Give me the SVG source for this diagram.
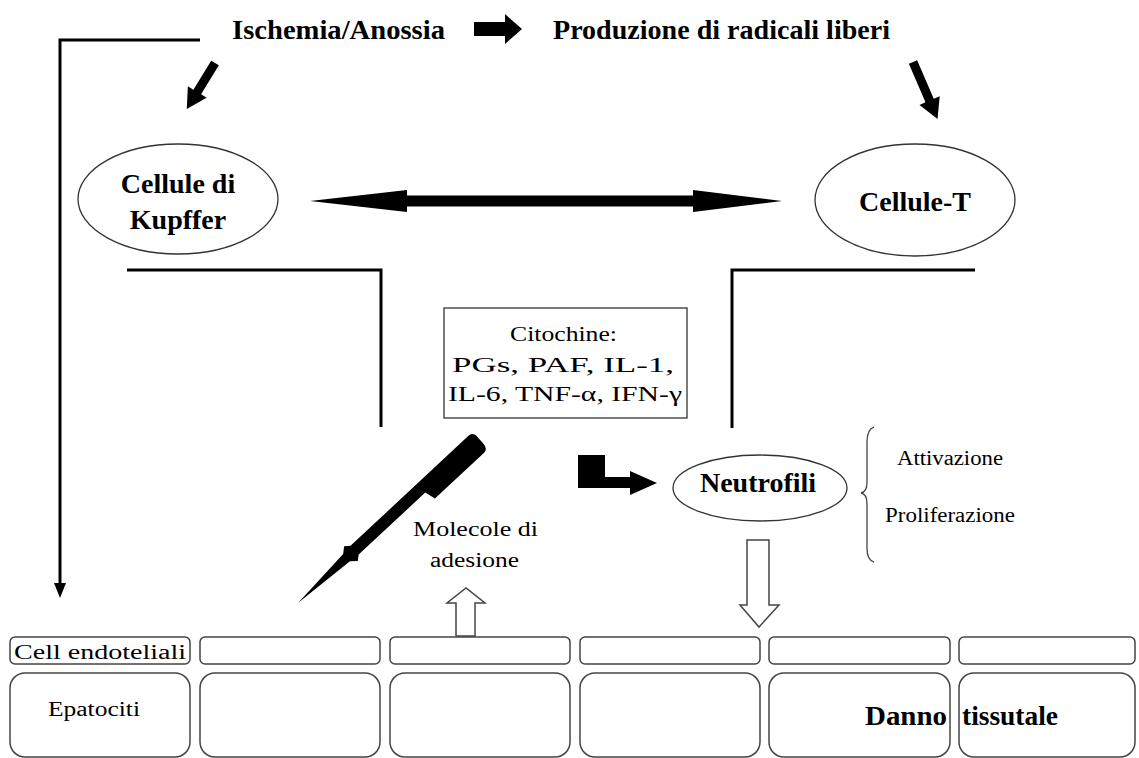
<svg xmlns="http://www.w3.org/2000/svg" width="1139" height="758" viewBox="0 0 1139 758">
<style>
.t{font-family:"Liberation Serif","Times New Roman",serif;fill:#000}
.b{font-weight:bold;font-size:28px}
.r{font-size:20px}
.ln{fill:none;stroke:#000;stroke-width:3}
.el{fill:#fff;stroke:#333;stroke-width:1.3}
.cell{fill:#fff;stroke:#444;stroke-width:1.5}
.solid{fill:#000;stroke:none}
.hollow{fill:#fff;stroke:#444;stroke-width:1.5}
</style>
<rect width="1139" height="758" fill="#fff"/>
<g id="connectors">
  <polyline class="ln" points="200,40 60,40 60,585"/>
  <polygon class="solid" points="54,583 66,583 60,598"/>
  <polygon class="solid" points="474,22 505,22 505,14 522,29 505,44 505,36 474,36"/>
  <g transform="translate(215,63) rotate(121.5)"><polygon class="solid" points="0,-4.5 34,-4.5 34,-11 54,0 34,11 34,4.5 0,4.5"/></g>
  <g transform="translate(913,62) rotate(66.7)"><polygon class="solid" points="0,-4.5 42,-4.5 42,-11 62,0 42,11 42,4.5 0,4.5"/></g>
  <polygon class="solid" points="310,201 407,190 407,195.5 693,195.5 693,190 782,201 693,212 693,206.5 407,206.5 407,212"/>
  <polyline class="ln" points="127,270 381,270 381,427"/>
  <polyline class="ln" points="975,270 732,270 732,428"/>
  <g transform="translate(476,437) rotate(137)"><path class="solid" d="M4,6 L166,6 L171,10 L177,5 L243,0 L177,-5 L171,-10 L166,-6 L75,-6 L72,-17 L4,-17 Q-1,-16 -1,-9 L-1,1 Q-1,5 4,6 Z"/></g>
  <polygon class="solid" points="578,455 605,455 605,477 630,477 630,471 657,483 630,495 630,488 578,488"/>
  <polygon class="hollow" points="456,636 456,603 447,603 466,588 485,603 475,603 475,636"/>
  <polygon class="hollow" points="747,540 769,540 769,605 779,605 759,627 740,605 747,605"/>
  <path d="M874,427 Q867,429 867,442 L867,482 Q867,492 861,493 Q867,494 867,504 L867,548 Q867,560 874,562" fill="none" stroke="#444" stroke-width="1.3"/>
</g>
<g id="ischemia"><text class="t b" x="232" y="39" textLength="213" lengthAdjust="spacingAndGlyphs">Ischemia/Anossia</text></g>
<g id="radicali"><text class="t b" x="553" y="39" textLength="337" lengthAdjust="spacingAndGlyphs">Produzione di radicali liberi</text></g>
<g id="kupffer">
  <ellipse class="el" cx="178" cy="199" rx="100" ry="55"/>
  <text class="t b" x="178" y="193" text-anchor="middle">Cellule di</text>
  <text class="t b" x="178" y="229" text-anchor="middle">Kupffer</text>
</g>
<g id="cellule-t">
  <ellipse class="el" cx="915" cy="200" rx="100" ry="56"/>
  <text class="t b" x="915" y="211" text-anchor="middle">Cellule-T</text>
</g>
<g id="citochine">
  <rect x="444" y="308" width="243" height="110" fill="#fff" stroke="#333" stroke-width="1.3"/>
  <text class="t r" x="510" y="341" textLength="107" lengthAdjust="spacingAndGlyphs">Citochine:</text>
  <text class="t r" x="452" y="372" textLength="222" lengthAdjust="spacingAndGlyphs">PGs, PAF, IL-1,</text>
  <text class="t r" x="448" y="401" textLength="234" lengthAdjust="spacingAndGlyphs">IL-6, TNF-α, IFN-γ</text>
</g>
<g id="neutrofili">
  <ellipse class="el" cx="760" cy="488" rx="87" ry="33"/>
  <text class="t b" x="758" y="492" text-anchor="middle">Neutrofili</text>
</g>
<g id="effetti">
  <text class="t r" x="897" y="465" textLength="106" lengthAdjust="spacingAndGlyphs">Attivazione</text>
  <text class="t r" x="885" y="522" textLength="130" lengthAdjust="spacingAndGlyphs">Proliferazione</text>
</g>
<g id="molecole">
  <text class="t r" x="413" y="536" textLength="125" lengthAdjust="spacingAndGlyphs">Molecole di</text>
  <text class="t r" x="430" y="567" textLength="89" lengthAdjust="spacingAndGlyphs">adesione</text>
</g>
<g id="endotelio">
  <rect class="cell" x="10" y="637" width="180" height="27" rx="5"/>
  <rect class="cell" x="200" y="637" width="180" height="27" rx="5"/>
  <rect class="cell" x="390" y="637" width="180" height="27" rx="5"/>
  <rect class="cell" x="580" y="637" width="180" height="27" rx="5"/>
  <rect class="cell" x="769" y="637" width="181" height="27" rx="5"/>
  <rect class="cell" x="959" y="637" width="176" height="27" rx="5"/>
  <text class="t r" x="14" y="659" textLength="172" lengthAdjust="spacingAndGlyphs">Cell endoteliali</text>
</g>
<g id="epatociti">
  <rect class="cell" x="10" y="673" width="180" height="84" rx="15"/>
  <rect class="cell" x="200" y="673" width="180" height="84" rx="15"/>
  <rect class="cell" x="390" y="673" width="180" height="84" rx="15"/>
  <rect class="cell" x="580" y="673" width="180" height="84" rx="15"/>
  <rect class="cell" x="769" y="673" width="181" height="84" rx="15"/>
  <rect class="cell" x="959" y="673" width="176" height="84" rx="15"/>
  <text class="t r" x="48" y="716" textLength="92" lengthAdjust="spacingAndGlyphs">Epatociti</text>
  <text class="t b" x="865" y="725" textLength="82" lengthAdjust="spacingAndGlyphs">Danno</text>
  <text class="t b" x="962" y="725" textLength="96" lengthAdjust="spacingAndGlyphs">tissutale</text>
</g>
</svg>
